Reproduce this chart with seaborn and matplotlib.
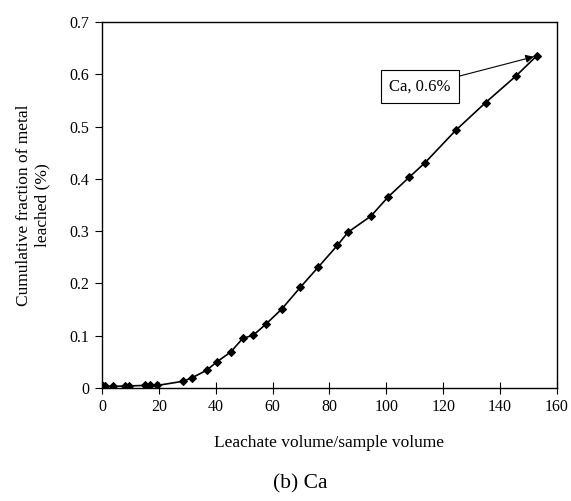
import matplotlib
matplotlib.use("Agg")
import matplotlib.pyplot as plt
import seaborn as sns
import pandas as pd

volume_ratio = [0.2, 1.2, 4.0, 8.0, 9.6, 15.0, 16.9, 19.5, 28.6, 31.8, 36.8, 40.4,
                45.3, 49.5, 53.2, 57.6, 63.2, 69.8, 76.0, 82.8, 86.5, 94.6, 100.7,
                108.0, 113.6, 124.4, 134.9, 145.6, 152.8]
fraction_leached = [0.003, 0.003, 0.003, 0.004, 0.004, 0.005, 0.005, 0.005, 0.013, 0.020,
                    0.034, 0.050, 0.069, 0.095, 0.101, 0.122, 0.151, 0.193, 0.231, 0.273,
                    0.298, 0.329, 0.366, 0.403, 0.431, 0.493, 0.546, 0.597, 0.635]
x_ticks = [0, 20, 40, 60, 80, 100, 120, 140, 160]
y_ticks = [0, 0.1, 0.2, 0.3, 0.4, 0.5, 0.6, 0.7]
y_tick_labels = ["0", "0.1", "0.2", "0.3", "0.4", "0.5", "0.6", "0.7"]
annotation_text = "Ca, 0.6%"

df = pd.DataFrame({"x": volume_ratio, "y": fraction_leached})

sns.set_style("ticks")
plt.rcParams["font.family"] = ["Liberation Serif", "DejaVu Serif"]
plt.rcParams["text.color"] = "black"
plt.rcParams["axes.labelcolor"] = "black"
plt.rcParams["xtick.color"] = "black"
plt.rcParams["ytick.color"] = "black"

fig = plt.figure(figsize=(5.71, 5.01), dpi=100)
ax = fig.add_axes([0.1786, 0.2255, 0.9755 - 0.1786, 0.956 - 0.2255])

sns.lineplot(data=df, x="x", y="y", ax=ax, color="black", linewidth=1.2,
             marker="D", markersize=4.5, markeredgecolor="black", markerfacecolor="black")

ax.set_xlim(0, 160)
ax.set_ylim(0, 0.7)
ax.set_xticks(x_ticks)
ax.set_xticklabels([str(t) for t in x_ticks])
ax.set_yticks(y_ticks)
ax.set_yticklabels(y_tick_labels)
ax.tick_params(axis="x", direction="inout", length=8, width=0.8, labelsize=11.5, pad=4)
ax.tick_params(axis="y", direction="out", length=5, width=0.8, labelsize=11.5, pad=4)
for s in ax.spines.values():
    s.set_linewidth(1.0)
    s.set_color("black")

ax.set_xlabel("Leachate volume/sample volume", fontsize=12.5, labelpad=14)
ax.set_ylabel("Cumulative fraction of metal\nleached (%)", fontsize=12.5, labelpad=14)

ax.annotate(annotation_text, xy=(volume_ratio[-1], fraction_leached[-1]),
            xytext=(111.8, 0.577), fontsize=12, ha="center", va="center",
            bbox=dict(boxstyle="square,pad=0.5", fc="white", ec="black", lw=0.8),
            arrowprops=dict(arrowstyle="-|>", color="black", lw=0.8, relpos=(1.0, 1.0),
                            shrinkA=0, shrinkB=2, mutation_scale=12))

fig.text(0.525, 0.034, "(b) Ca", fontsize=15.5, ha="center", va="center")

fig.savefig("out.png", dpi=100)
